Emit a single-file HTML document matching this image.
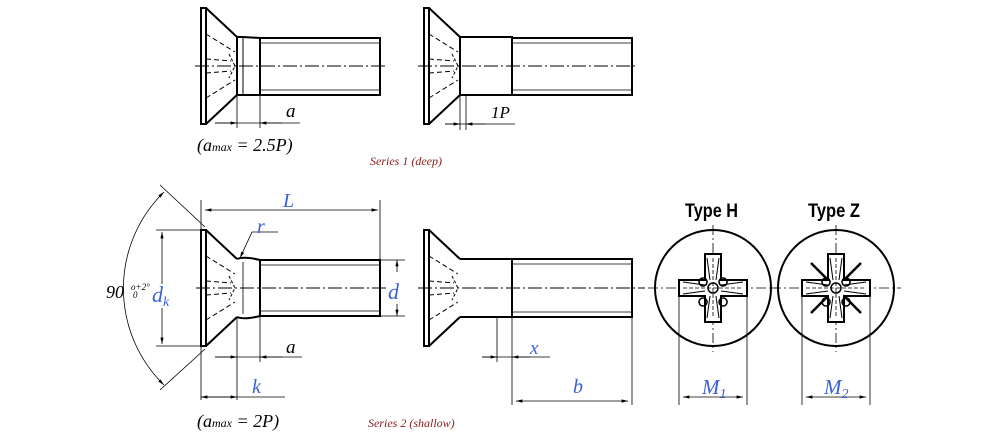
<!DOCTYPE html>
<html><head><meta charset="utf-8"><style>
html,body{margin:0;padding:0;background:#fff;width:1000px;height:435px;overflow:hidden}
svg{display:block}
.t{font-family:"Liberation Serif",serif;font-style:italic}
</style></head><body>
<svg width="1000" height="435" viewBox="0 0 1000 435" xmlns="http://www.w3.org/2000/svg">
<defs>
<marker id="a" markerWidth="8" markerHeight="6" refX="8" refY="3" orient="auto-start-reverse"><path d="M0,1 L8,3 L0,5" fill="#000"/></marker>
<g id="head">
 <rect x="0" y="0" width="5" height="116" fill="none" stroke="#000" stroke-width="2"/>
 <path d="M5,0 L36,29 M5,116 L36,87" stroke="#000" stroke-width="2" fill="none"/>
 <path d="M5,26 L34,44 M5,90 L34,72 M5,51 L30,53 M5,65 L30,63" stroke="#000" stroke-width="1" stroke-dasharray="5,3" fill="none"/>
 <path d="M28,46 L34,58 L28,70" stroke="#000" stroke-width="1" stroke-dasharray="3,2" fill="none"/>
</g>
</defs>
<g stroke="#000" fill="none">
<use href="#head" x="201" y="8"/>
<path d="M237,37 L243,37 L260,38 L260,95 L243,95 L237,95 Z" stroke-width="2"/>
<line x1="243" y1="37" x2="243" y2="95" stroke-width="1"/>
<rect x="260" y="38" width="120" height="57" stroke-width="2"/>
<path d="M260,43 H380 M260,90 H380" stroke-width="0.8"/>
<line x1="195" y1="66" x2="385" y2="66" stroke-width="1" stroke-dasharray="14,3,2,3"/>
<path d="M237,95 V128 M260,95 V128 M215,123 H300" stroke-width="0.8"/>
<path d="M215,123 H237" stroke-width="0.8" marker-end="url(#a)"/>
<path d="M282,123 H260" stroke-width="0.8" marker-end="url(#a)"/>
<use href="#head" x="424" y="8"/>
<rect x="460" y="37" width="52" height="58" stroke-width="2"/>
<rect x="512" y="38" width="120" height="57" stroke-width="2"/>
<path d="M512,43 H632 M512,90 H632" stroke-width="0.8"/>
<line x1="418" y1="66" x2="637" y2="66" stroke-width="1" stroke-dasharray="14,3,2,3"/>
<path d="M460,95 V130 M466,95 V130 M445,124 H515" stroke-width="0.8"/>
<path d="M445,124 H460" stroke-width="0.8" marker-end="url(#a)"/>
<path d="M485,124 H466" stroke-width="0.8" marker-end="url(#a)"/>
<use href="#head" x="201" y="230"/>
<path d="M237,259 Q244,256 260,260 M237,317 Q244,320 260,316" stroke-width="2"/>
<rect x="260" y="260" width="120" height="56" stroke-width="2"/>
<path d="M260,265 H380 M260,311 H380 M243,262 V314" stroke-width="0.8"/>
<line x1="196" y1="288" x2="390" y2="288" stroke-width="1" stroke-dasharray="14,3,2,3"/>
<path d="M201,230 V200 M380,260 V200" stroke-width="0.8"/>
<path d="M205,210 H378" stroke-width="0.8" marker-start="url(#a)" marker-end="url(#a)"/>
<path d="M240,258 L252,232 H278" stroke-width="0.8" marker-start="url(#a)"/>
<path d="M380,260 H405 M380,316 H405" stroke-width="0.8"/>
<path d="M397,272 V260" stroke-width="0.8" marker-end="url(#a)"/>
<path d="M397,304 V316" stroke-width="0.8" marker-end="url(#a)"/>
<path d="M201,230 H156 M201,346 H156" stroke-width="0.8"/>
<path d="M162,232 V344" stroke-width="0.8" marker-start="url(#a)" marker-end="url(#a)"/>
<path d="M205,227 L160,185 M205,349 L160,390" stroke-width="0.8"/>
<path d="M164,192 A135,135 0 0 0 164,385" stroke-width="0.8" marker-start="url(#a)" marker-end="url(#a)"/>
<path d="M237,317 V400 M260,316 V362 M201,346 V400" stroke-width="0.8"/>
<path d="M215,357 H302" stroke-width="0.8"/>
<path d="M215,357 H237" stroke-width="0.8" marker-end="url(#a)"/>
<path d="M282,357 H260" stroke-width="0.8" marker-end="url(#a)"/>
<path d="M201,397 H285" stroke-width="0.8"/>
<path d="M201,397 H237" stroke-width="0.8" marker-start="url(#a)" marker-end="url(#a)"/>
<use href="#head" x="424" y="230"/>
<path d="M460,259 H512 M460,317 H512" stroke-width="2"/>
<rect x="512" y="259" width="120" height="58" stroke-width="2"/>
<path d="M512,264 H632 M512,312 H632" stroke-width="0.8"/>
<line x1="418" y1="288" x2="645" y2="288" stroke-width="1" stroke-dasharray="14,3,2,3"/>
<path d="M512,317 V405 M632,317 V405" stroke-width="0.8"/>
<path d="M516,401 H628" stroke-width="0.8" marker-start="url(#a)" marker-end="url(#a)"/>
<path d="M497,317 V362 M482,357 H550" stroke-width="0.8"/>
<path d="M482,357 H497" stroke-width="0.8" marker-end="url(#a)"/>
<path d="M530,357 H512" stroke-width="0.8" marker-end="url(#a)"/>
<!-- Type H -->
<circle cx="713" cy="288" r="58" stroke-width="2"/>
<path d="M648,288 H778 M713,225 V352" stroke-width="0.8" stroke-dasharray="10,3,2,3"/>
<path d="M705,254 H721 V280 H747 V296 H721 V322 H705 V296 H679 V280 H705 Z" stroke-width="2" fill="#fff"/>
<path d="M707,258 L710,280 M719,258 L716,280 M707,318 L710,296 M719,318 L716,296 M683,282 L705,285 M683,294 L705,291 M743,282 L721,285 M743,294 L721,291" stroke-width="1"/>
<circle cx="713" cy="288" r="5" stroke-width="1.5"/>
<path d="M703,278 a4,4 0 1,0 0.1,0 M723,278 a4,4 0 1,0 0.1,0 M703,298 a4,4 0 1,0 0.1,0 M723,298 a4,4 0 1,0 0.1,0" stroke-width="1.5"/>
<line x1="713" y1="258" x2="713" y2="318" stroke-width="0.8" stroke-dasharray="4,2"/>
<line x1="683" y1="288" x2="743" y2="288" stroke-width="0.8" stroke-dasharray="4,2"/>
<path d="M679,296 V405 M747,296 V405" stroke-width="0.8"/>
<path d="M683,397 H743" stroke-width="0.8" marker-start="url(#a)" marker-end="url(#a)"/>
<!-- Type Z -->
<circle cx="836" cy="288" r="58" stroke-width="2"/>
<path d="M771,288 H901 M836,225 V352" stroke-width="0.8" stroke-dasharray="10,3,2,3"/>
<path d="M811,263 L861,313 M861,263 L811,313" stroke-width="2.5"/>
<path d="M828,254 H844 V280 H870 V296 H844 V322 H828 V296 H802 V280 H828 Z" stroke-width="2" fill="#fff"/>
<path d="M830,258 L833,280 M842,258 L839,280 M830,318 L833,296 M842,318 L839,296 M806,282 L828,285 M806,294 L828,291 M866,282 L844,285 M866,294 L844,291" stroke-width="1"/>
<circle cx="836" cy="288" r="5" stroke-width="1.5"/>
<path d="M826,278 a4,4 0 1,0 0.1,0 M846,278 a4,4 0 1,0 0.1,0 M826,298 a4,4 0 1,0 0.1,0 M846,298 a4,4 0 1,0 0.1,0" stroke-width="1.5"/>
<line x1="836" y1="258" x2="836" y2="318" stroke-width="0.8" stroke-dasharray="4,2"/>
<line x1="806" y1="288" x2="866" y2="288" stroke-width="0.8" stroke-dasharray="4,2"/>
<path d="M802,296 V405 M870,296 V405" stroke-width="0.8"/>
<path d="M806,397 H866" stroke-width="0.8" marker-start="url(#a)" marker-end="url(#a)"/>
</g>
<rect x="151" y="284" width="24" height="24" fill="#fff"/>
<rect x="387" y="280" width="18" height="22" fill="#fff"/>
<g class="t" font-size="16">
<text x="286" y="117" font-size="19">a</text>
<text x="491" y="118" font-size="17">1P</text>
<text x="197" y="151" font-size="18">(a<tspan font-size="12">max</tspan> = 2.5P)</text>
<text x="370" y="165" font-size="12" fill="#8b1a1a">Series 1 (deep)</text>
<text x="283" y="207" font-size="20" fill="#3a5fd8">L</text>
<text x="257" y="233" font-size="20" fill="#3a5fd8">r</text>
<text x="388" y="299" font-size="22" fill="#3a5fd8">d</text>
<text x="152" y="302" font-size="22" fill="#3a5fd8">d<tspan font-size="14" dy="4">k</tspan></text>
<text x="106" y="298" font-size="18">90</text>
<text x="131" y="290" font-size="9">o+2°</text>
<text x="133" y="298" font-size="9">0</text>
<text x="286" y="353" font-size="19">a</text>
<text x="252" y="393" font-size="20" fill="#3a5fd8">k</text>
<text x="530" y="354" font-size="19" fill="#3a5fd8">x</text>
<text x="573" y="393" font-size="20" fill="#3a5fd8">b</text>
<text x="197" y="427" font-size="18">(a<tspan font-size="12">max</tspan> = 2P)</text>
<text x="368" y="427" font-size="12" fill="#8b1a1a">Series 2 (shallow)</text>
<text x="702" y="394" font-size="21" fill="#3a5fd8">M<tspan font-size="14" dy="4">1</tspan></text>
<text x="824" y="394" font-size="21" fill="#3a5fd8">M<tspan font-size="14" dy="4">2</tspan></text>
</g>
<g font-family="Liberation Sans Narrow, Liberation Sans, sans-serif" font-weight="bold" font-size="19">
<text x="685" y="217" textLength="53" lengthAdjust="spacingAndGlyphs">Type H</text>
<text x="808" y="217" textLength="52" lengthAdjust="spacingAndGlyphs">Type Z</text>
</g>
</svg>
</body></html>
